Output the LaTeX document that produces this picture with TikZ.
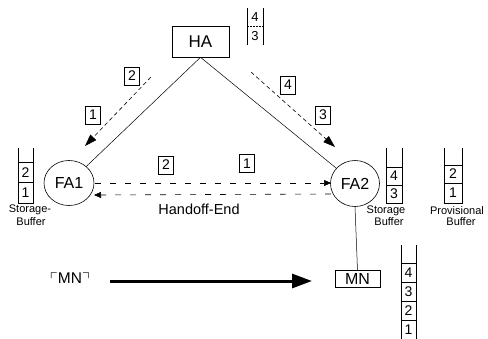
\documentclass[tikz,border=0pt]{standalone}
\usepackage{amssymb}
\usepackage{fontspec}
\setmainfont{Liberation Sans}
\usetikzlibrary{arrows.meta,shapes.geometric}
\begin{document}
\begin{tikzpicture}[x=1pt,y=-1pt,
  agent/.style={draw,line width=0.6pt,ellipse,minimum width=50pt,minimum height=45pt,inner sep=0pt,font=\fontsize{16}{16}\selectfont},
  boxnode/.style={draw,line width=0.6pt,rectangle,inner sep=0pt,font=\fontsize{17}{17}\selectfont},
  tag/.style={draw,line width=0.6pt,rectangle,minimum width=15pt,minimum height=18pt,inner sep=0pt,font=\fontsize{14}{14}\selectfont},
  cell/.style={draw,line width=0.6pt,rectangle,minimum width=15pt,minimum height=19pt,inner sep=0pt,font=\fontsize{14}{14}\selectfont},
  side/.style={line width=0.6pt},
  buflabel/.style={font=\fontsize{11}{11}\selectfont,inner sep=0pt},
  thinline/.style={line width=0.5pt},
  msg/.style={line width=0.6pt,dash pattern=on 4pt off 3pt,-{Triangle[length=12pt,width=8pt]}},
  hmsg/.style={line width=0.6pt,dash pattern=on 6pt off 9pt,-{Triangle[length=7pt,width=6pt]}}
]
\useasboundingbox (0,0) rectangle (488,338);

% main nodes
\node[boxnode,minimum width=57pt,minimum height=31pt] (HA) at (200.5,41.5) {HA};
\node[agent] (FA1) at (69,183) {FA1};
\node[agent,minimum width=49pt,minimum height=46pt] (FA2) at (355,183.5) {FA2};
\node[boxnode,minimum width=45pt,minimum height=17pt,font=\fontsize{16}{16}\selectfont] (MN) at (357.5,279) {MN};

% HA stack
\draw[side] (247,8) -- (247,45);
\draw[side] (263,8) -- (263,45);
\draw[thinline,dash pattern=on 2pt off 1pt] (247,26) -- (263,26);
\node[font=\fontsize{13}{13}\selectfont] (ha4) at (255,17) {4};
\node[font=\fontsize{13}{13}\selectfont] (ha3) at (255,36) {3};

% tree links
\draw[thinline] (HA.south) -- (FA1);
\draw[thinline] (HA.south) -- (FA2);
\draw[thinline] (FA2.south) -- (MN.north);

% dashed messages from HA
\coordinate (l1) at (151,77);
\coordinate (l2) at (85,146);
\draw[msg] (l1) -- (l2);
\coordinate (r1) at (251,72);
\coordinate (r2) at (335,147);
\draw[msg] (r1) -- (r2);

\node[tag] (t2a) at (132,76) {2};
\node[tag] (t1a) at (93,115) {1};
\node[tag] (t4) at (288,85) {4};
\node[tag] (t3) at (323,115) {3};
\node[tag] (t2b) at (166,165) {2};
\node[tag] (t1b) at (247,163.5) {1};

% horizontal dashed messages
\coordinate (h1) at (95,183);
\coordinate (h2) at (331,183);
\draw[hmsg] (h1) -- (h2);
\coordinate (h3) at (331,194);
\coordinate (h4) at (94,195);
\draw[hmsg] (h3) -- (h4);
\node[font=\fontsize{14.5}{14.5}\selectfont] (he) at (199,209) {Handoff-End};

% left storage buffer
\draw[side] (18,148) -- (18,162);
\draw[side] (33,148) -- (33,162);
\node[cell,minimum width=15pt,minimum height=20.5pt] (s2) at (25.5,172.25) {2};
\node[cell,minimum width=15pt,minimum height=20.5pt] (s1) at (25.5,192.75) {1};
\node[buflabel] (sl1) at (30,210) {Storage-};
\node[buflabel] (sl2) at (31,222) {Buffer};

% FA2 storage buffer
\draw[side] (386,148) -- (386,167);
\draw[side] (402,148) -- (402,167);
\node[cell,minimum width=16pt,minimum height=18pt] (f4) at (394,176) {4};
\node[cell,minimum width=16pt,minimum height=18pt] (f3) at (394,194) {3};
\node[buflabel] (fl1) at (386,211) {Storage};
\node[buflabel] (fl2) at (389,222) {Buffer};

% provisional buffer
\draw[side] (444,148) -- (444,165);
\draw[side] (462,148) -- (462,165);
\node[cell,minimum width=18pt,minimum height=18pt] (p2) at (453,174) {2};
\node[cell,minimum width=18pt,minimum height=20pt] (p1) at (453,193) {1};
\node[buflabel] (pl1) at (457,211) {Provisional};
\node[buflabel] (pl2) at (461,222) {Buffer};

% MN buffer
\draw[side] (401,245) -- (401,263);
\draw[side] (416,245) -- (416,263);
\node[cell,minimum height=19pt] (m4) at (408.5,272.5) {4};
\node[cell,minimum height=19pt] (m3) at (408.5,291.5) {3};
\node[cell,minimum height=19pt] (m2) at (408.5,310.5) {2};
\node[cell,minimum height=19pt] (m1) at (408.5,329.5) {1};

% moving MN
\node[font=\fontsize{15.5}{15.5}\selectfont] (mnl) at (70,278) {$\ulcorner$MN$\urcorner$};
\coordinate (a1) at (110,281);
\coordinate (a2) at (312,281);
\draw[line width=3pt,-{Triangle[length=20pt,width=14pt]}] (a1) -- (a2);
\end{tikzpicture}
\end{document}
